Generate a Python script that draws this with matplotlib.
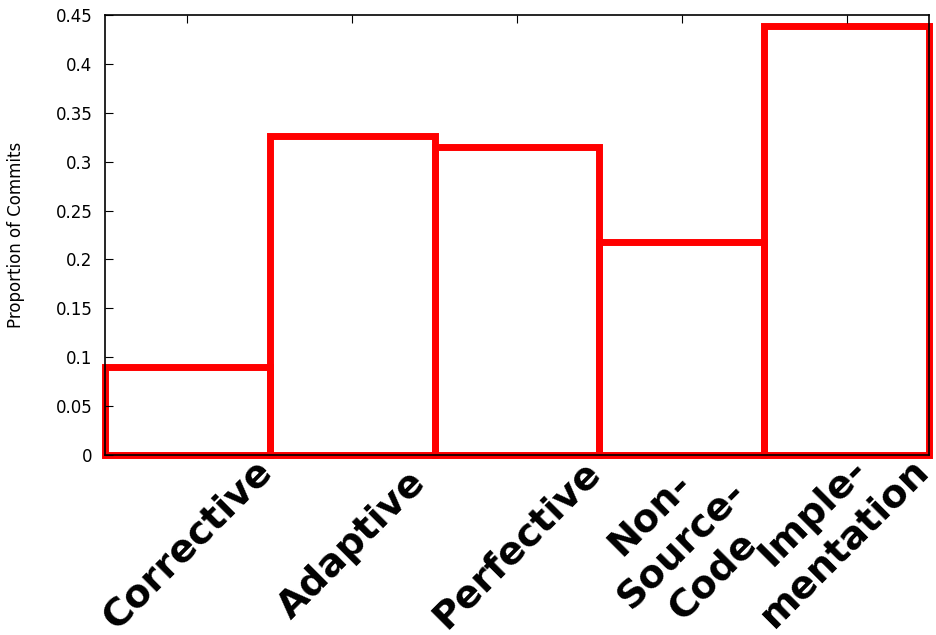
import numpy as np
import matplotlib.pyplot as plt
from matplotlib.transforms import ScaledTranslation

categories = ['Corrective', 'Adaptive', 'Perfective', 'Non-\nSource-\nCode', 'Imple-\nmentation']
proportions = [0.090, 0.326, 0.315, 0.218, 0.439]

fig = plt.figure(figsize=(9.37, 6.35), dpi=100)
ax = fig.add_axes([0.112, 0.2835, 0.8795, 0.6929])

x = np.arange(len(categories))
bars = ax.bar(x, proportions, width=1.0, fill=False, edgecolor='red', linewidth=5)
for b in bars:
    b.set_clip_on(False)

ax.set_xlim(-0.5, len(categories) - 0.5)
ax.set_ylim(0, 0.45)
ax.set_yticks(np.arange(0, 0.451, 0.05))
ax.set_yticklabels(['0', '0.05', '0.1', '0.15', '0.2', '0.25', '0.3', '0.35', '0.4', '0.45'])

ax.set_xticks(x)
ax.set_xticklabels([])
ax.tick_params(axis='x', direction='in', top=True, bottom=False, length=6)
ax.tick_params(axis='y', direction='in', right=False, length=6, labelsize=12, pad=9)

# gnuplot-style rotated labels: centred under the tic, multi-line ones
# keep line n//2 on the anchor
lab_size = 27.5
lab_ls = 1.3
for xi, lab in zip(x, categories):
    n = lab.count('\n') + 1
    shift = (n // 2 - (n - 1) / 2) * lab_ls * lab_size / 72.0
    off = ScaledTranslation(-shift * 0.7071, -0.9 + shift * 0.7071, fig.dpi_scale_trans)
    ax.text(xi, 0, lab, transform=ax.get_xaxis_transform() + off,
            rotation=45, rotation_mode='anchor', ha='center', va='center',
            multialignment='center', linespacing=lab_ls,
            fontsize=lab_size, fontweight='bold', clip_on=False)

ax.set_ylabel('Proportion of Commits', fontsize=12, labelpad=22)
for s in ax.spines.values():
    s.set_linewidth(1.2)

plt.savefig('out.png')
